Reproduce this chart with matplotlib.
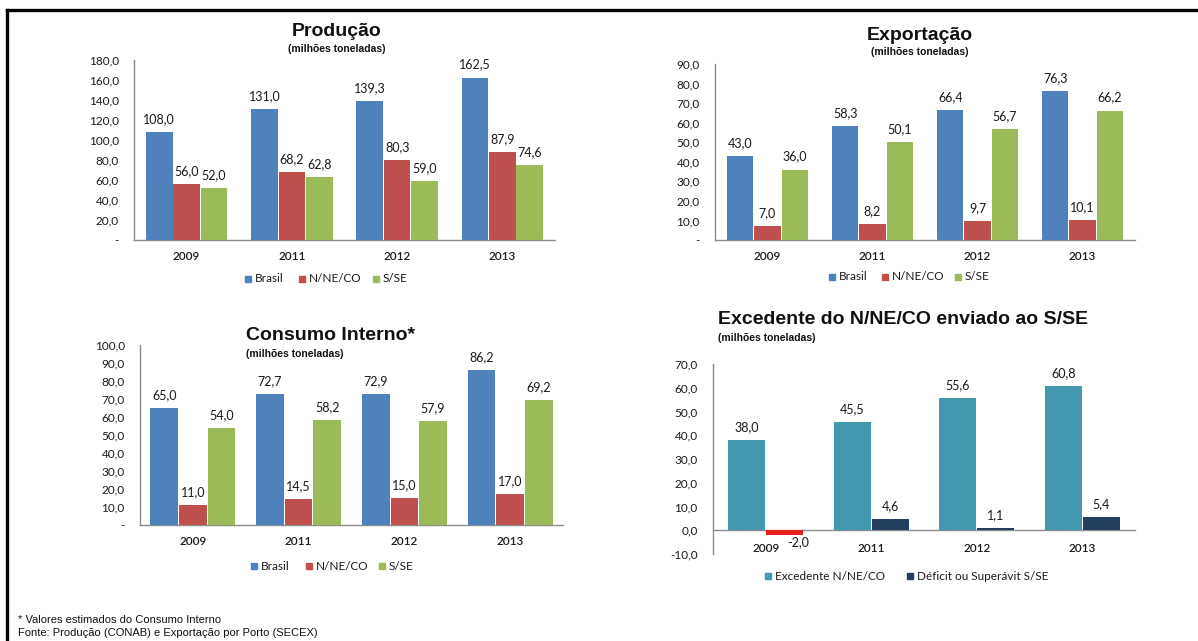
import matplotlib
matplotlib.use("Agg")
import matplotlib.pyplot as plt
from matplotlib.lines import Line2D
from matplotlib.patches import Rectangle
import numpy as np

# ---- data (milhões de toneladas) ----
anos = ["2009", "2011", "2012", "2013"]

producao_brasil = [108.0, 131.0, 139.3, 162.5]
producao_nneco = [56.0, 68.2, 80.3, 87.9]
producao_sse = [52.0, 62.8, 59.0, 74.6]

exportacao_brasil = [43.0, 58.3, 66.4, 76.3]
exportacao_nneco = [7.0, 8.2, 9.7, 10.1]
exportacao_sse = [36.0, 50.1, 56.7, 66.2]

consumo_brasil = [65.0, 72.7, 72.9, 86.2]
consumo_nneco = [11.0, 14.5, 15.0, 17.0]
consumo_sse = [54.0, 58.2, 57.9, 69.2]

excedente_nneco = [38.0, 45.5, 55.6, 60.8]
saldo_sse = [-2.0, 4.6, 1.1, 5.4]

serie_regioes = ["Brasil", "N/NE/CO", "S/SE"]
serie_excedente = ["Excedente N/NE/CO", "Déficit ou Superávit S/SE"]

# ---- style ----
AZUL = "#4F81BD"
VERMELHO = "#C0504D"
VERDE = "#9BBB59"
TEAL = "#4198AF"
MARINHO = "#243F60"
NEGATIVO = "#E3201B"
TXT = "#1a1a1a"
NUM_FONT = ["Lato", "DejaVu Sans"]
TITLE_FONT = ["Liberation Sans", "DejaVu Sans"]
TICK_FS = 8.5
LABEL_FS = 9
LEG_FS = 8.5

W, H = 1198, 641
fig = plt.figure(figsize=(W / 100, H / 100), dpi=100)
fig.patch.set_facecolor("white")


def px_axes(x0, x1, y_top, y_bot):
    return fig.add_axes([x0 / W, 1 - y_bot / H, (x1 - x0) / W, (y_bot - y_top) / H])


def fmt(v):
    return f"{v:.1f}".replace(".", ",")


def style_axes(ax, ylim, step, zero_dash=True):
    ax.set_ylim(*ylim)
    ax.set_xlim(-0.5, len(anos) - 0.5)
    ticks = np.arange(ylim[0], ylim[1] + step / 2, step)
    ax.set_yticks(ticks)
    labels = []
    for t in ticks:
        if zero_dash and abs(t) < 1e-9:
            labels.append("-")
        else:
            labels.append(fmt(t))
    ax.set_yticklabels(labels, fontfamily=NUM_FONT, fontsize=TICK_FS, color=TXT)
    ax.set_xticks(range(len(anos)))
    ax.set_xticklabels(anos, fontfamily=NUM_FONT, fontsize=TICK_FS, color=TXT,
                       fontweight="semibold")
    ax.tick_params(axis="both", length=0)
    ax.tick_params(axis="y", pad=11)
    ax.tick_params(axis="x", pad=8)
    for s in ("top", "right"):
        ax.spines[s].set_visible(False)
    ax.spines["left"].set_color("#8c8c8c")
    ax.spines["bottom"].set_color("#8c8c8c")
    ax.spines["left"].set_linewidth(1.0)
    ax.spines["bottom"].set_linewidth(1.0)
    ax.set_facecolor("none")


def label_bars(ax, bars, vals, neg_dx=0):
    for b, v in zip(bars, vals):
        xc = b.get_x() + b.get_width() / 2
        if v >= 0:
            ax.annotate(fmt(v), (xc, v), xytext=(0, 5), textcoords="offset points",
                        ha="center", va="bottom", fontsize=LABEL_FS,
                        fontfamily=NUM_FONT, color=TXT)
        else:
            ax.annotate(fmt(v), (xc, v), xytext=(neg_dx, -1), textcoords="offset points",
                        ha="center", va="top", fontsize=LABEL_FS,
                        fontfamily=NUM_FONT, color=TXT)


def bars_with_labels(ax, series, colors, width):
    n = len(series)
    x = np.arange(len(anos))
    for i, (vals, c) in enumerate(zip(series, colors)):
        off = (i - (n - 1) / 2) * width
        bars = ax.bar(x + off, vals, width=width * 0.97, color=c, zorder=3)
        label_bars(ax, bars, vals)


def legend_row(x_start, y, names, colors, gap):
    x = x_start
    for i, (name, c) in enumerate(zip(names, colors)):
        fig.add_artist(Rectangle((x / W, 1 - (y + 3) / H), 6 / W, 6 / H,
                                 transform=fig.transFigure, color=c))
        fig.text((x + 10) / W, 1 - y / H, name, fontsize=LEG_FS, fontfamily=NUM_FONT,
                 color=TXT, va="center", ha="left")
        x += gap[i]


def titles(x, y_title, y_sub, title, ha="center"):
    fig.text(x / W, 1 - y_title / H, title, fontsize=14, fontweight="bold",
             fontfamily=TITLE_FONT, color="#111111", ha=ha, va="center")
    fig.text(x / W, 1 - y_sub / H, "(milhões toneladas)",
             fontsize=7.5, fontweight="bold", fontfamily=TITLE_FONT, color="#111111",
             ha=ha, va="center")


cores3 = [AZUL, VERMELHO, VERDE]

# Produção
ax1 = px_axes(134, 555, 60, 240)
bars_with_labels(ax1, [producao_brasil, producao_nneco, producao_sse], cores3, 0.26)
style_axes(ax1, (0, 180), 20)
titles(337, 32, 49, "Produção")
legend_row(245, 279, serie_regioes, cores3, [54, 74, 0])

# Exportação
ax2 = px_axes(715, 1135, 64, 240)
bars_with_labels(ax2, [exportacao_brasil, exportacao_nneco, exportacao_sse], cores3, 0.26)
style_axes(ax2, (0, 90), 10)
titles(920, 35, 52, "Exportação")
legend_row(829, 277, serie_regioes, cores3, [53, 73, 0])

# Consumo Interno
ax3 = px_axes(140, 563, 345, 525)
bars_with_labels(ax3, [consumo_brasil, consumo_nneco, consumo_sse], cores3, 0.27)
style_axes(ax3, (0, 100), 10)
titles(246, 335, 354, "Consumo Interno*", ha="left")
legend_row(251, 566, serie_regioes, cores3, [55, 73, 0])

# Excedente do N/NE/CO enviado ao S/SE
ax4 = px_axes(713, 1135, 364, 554)
ax4.spines["bottom"].set_position(("data", 0))
x = np.arange(len(anos))
w = 0.36
b1 = ax4.bar(x - w / 2, excedente_nneco, width=w * 0.97, color=TEAL, zorder=3)
cores_saldo = [NEGATIVO if v < 0 else MARINHO for v in saldo_sse]
b2 = ax4.bar(x + w / 2, saldo_sse, width=w * 0.97, color=cores_saldo, zorder=3)
label_bars(ax4, b1, excedente_nneco)
label_bars(ax4, b2, saldo_sse, neg_dx=10)
style_axes(ax4, (-10, 70), 10, zero_dash=False)
ax4.tick_params(axis="x", pad=9)
titles(718, 320, 338, "Excedente do N/NE/CO enviado ao S/SE", ha="left")
legend_row(765, 576, serie_excedente, [TEAL, MARINHO], [142, 0])

# frame lines
fig.add_artist(Line2D([7 / W, 1], [1 - 10 / H, 1 - 10 / H], color="black", lw=2.4,
                      transform=fig.transFigure))
fig.add_artist(Line2D([7 / W, 7 / W], [1 - 10 / H, 0], color="black", lw=2.4,
                      transform=fig.transFigure))

# notes
fig.text(18 / W, 1 - 620 / H, "* Valores estimados do Consumo Interno", fontsize=8,
         fontfamily=TITLE_FONT, color="#111111", ha="left", va="center")
fig.text(18 / W, 1 - 633 / H, "Fonte: Produção (CONAB) e Exportação por Porto (SECEX)",
         fontsize=8, fontfamily=TITLE_FONT, color="#111111", ha="left", va="center")

fig.savefig("out.png", dpi=100, facecolor="white")
